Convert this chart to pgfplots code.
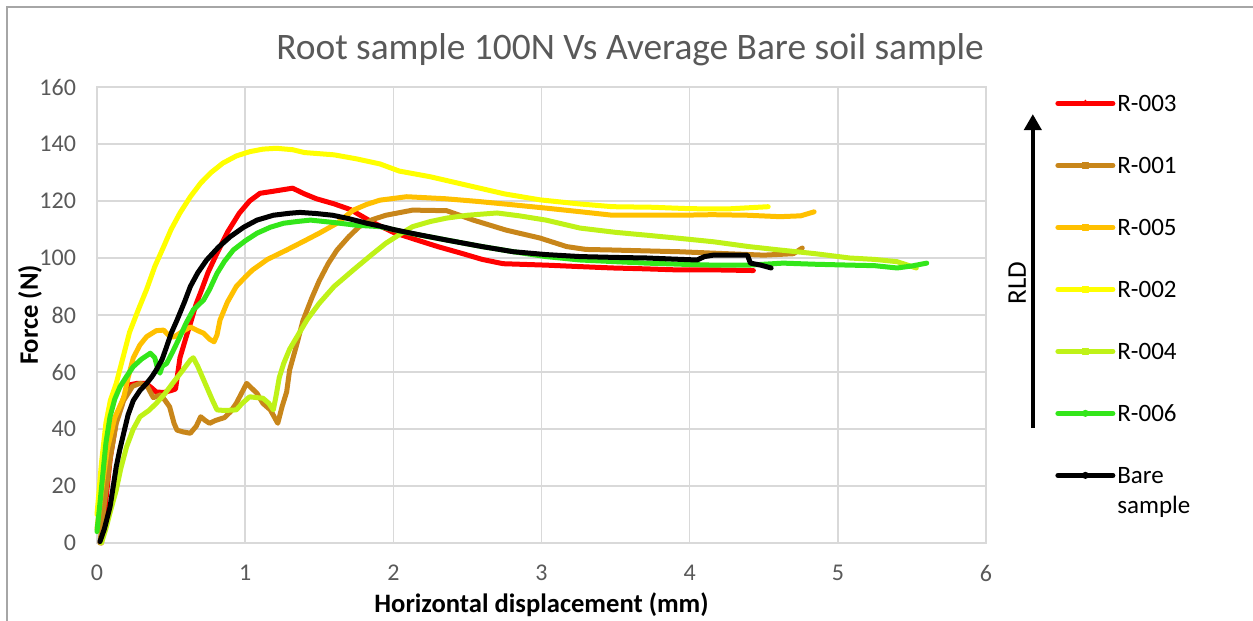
\documentclass[border=0pt]{standalone}
\usepackage{pgfplots}
\pgfplotsset{compat=1.18}
\usepackage{fontspec}
\setmainfont{Carlito}
\usetikzlibrary{arrows.meta}

\definecolor{cRed}{HTML}{FF0000}
\definecolor{cBrown}{HTML}{C8861A}
\definecolor{cOrange}{HTML}{FFC000}
\definecolor{cYellow}{HTML}{FFFF00}
\definecolor{cLime}{HTML}{BFF218}
\definecolor{cGreen}{HTML}{33E61A}
\definecolor{cGrid}{HTML}{D9D9D9}
\definecolor{cText}{HTML}{595959}
\definecolor{cFrame}{HTML}{A6A6A6}

\begin{document}
\begin{tikzpicture}
\useasboundingbox (-48.5pt,-39pt) rectangle (578pt,271.5pt);
% chart frame
\draw[cFrame, line width=1pt] (-45pt,-39pt) -- (-45pt,268pt) -- (578pt,268pt);
\begin{axis}[
  at={(0pt,0pt)}, anchor=south west,
  scale only axis, width=444.5pt, height=228pt,
  xmin=0, xmax=6, ymin=0, ymax=160,
  xtick={0,1,...,6}, ytick={0,20,...,160},
  grid=major,
  major grid style={cGrid, line width=0.75pt},
  axis line style={cGrid, line width=0.75pt},
  major tick length=0pt,
  tick label style={font=\fontsize{12}{14}\selectfont, text=cText},
  /pgf/number format/assume math mode=true,
  yticklabel style={xshift=-7pt},
  xticklabel style={yshift=-7.5pt},
  xlabel={Horizontal displacement (mm)},
  ylabel={Force (N)},
  label style={font=\fontsize{13.3}{15}\selectfont\bfseries},
  xlabel style={at={(axis description cs:0.5,-0.136)}, anchor=center},
  ylabel style={at={(axis description cs:-0.0754,0.5)}, anchor=center, rotate=0},
  title={Root sample 100N Vs Average Bare soil sample},
  every axis title shift=0pt,
  title style={at={(axis description cs:0.5996,1.081)}, anchor=center,
    font=\fontsize{18.7}{22}\selectfont, text=cText},
  clip=false,
  every axis plot/.append style={line width=2.5pt, line join=round, line cap=round, mark phase=100000},
  legend image code/.code={%
    \draw[mark repeat=2, mark phase=2, line width=2.5pt]
      plot coordinates {(0pt,0pt) (13.75pt,0pt) (27.5pt,0pt)};},
  legend cell align=left,
  legend style={draw=none, fill=none, inner sep=0pt,
    at={(axis description cs:1.0776,0.988)}, anchor=north west,
    row sep=20.5pt,
    font=\fontsize{12.5}{15}\selectfont,
    nodes={inner sep=1pt, text height=8.5pt, text depth=0pt}},
]

% R-003
\addplot[cRed, mark=triangle*, mark size=1.6pt, mark options={line width=0.5pt}] coordinates {
(0.03,0)(0.06,15)(0.09,30)(0.13,43)(0.18,51)(0.22,55.5)(0.27,56)(0.33,56)(0.36,54.8)
(0.40,53)(0.45,52.8)(0.50,53.5)(0.53,54)(0.56,65)(0.60,72)(0.63,77)(0.67,84)(0.70,88)
(0.75,95)(0.81,101.7)(0.88,109)(0.96,115.7)(1.03,120)(1.10,122.7)(1.2,123.5)(1.32,124.5)
(1.40,122.5)(1.48,120.8)(1.6,119)(1.71,117)(1.86,112.5)(2.0,109)(2.16,106.3)(2.3,104)
(2.47,101.5)(2.6,99.5)(2.74,98)(3.03,97.5)(3.25,97)(3.48,96.5)(3.7,96.2)(3.93,95.8)
(4.2,95.8)(4.43,95.6)};
\addlegendentry{R-003}

% R-001
\addplot[cBrown, mark=square*, mark size=1.5pt, mark options={line width=0.5pt}] coordinates {
(0.02,0)(0.05,14)(0.09,30)(0.13,42)(0.18,50)(0.24,55)(0.29,56)(0.335,55.4)(0.38,51)
(0.43,52)(0.46,50)(0.49,47.8)(0.52,42)(0.54,39.6)(0.58,39)(0.63,38.5)(0.67,41)(0.70,44.3)
(0.73,43)(0.76,42)(0.80,43)(0.86,44)(0.90,46)(0.94,49)(1.01,56)(1.05,54)(1.08,52.5)
(1.12,49)(1.17,46.7)(1.22,42)(1.25,48)(1.28,53)(1.30,60.7)(1.35,70)(1.39,78)(1.45,86)
(1.50,92)(1.56,98)(1.62,102.8)(1.7,107.5)(1.77,111)(1.86,113.5)(1.95,115)(2.13,116.8)
(2.36,116.6)(2.54,113.3)(2.76,109.8)(2.99,107)(3.17,104)(3.3,103)(3.48,102.8)(3.7,102.5)
(3.93,102.2)(4.16,101.7)(4.5,101)(4.7,101.5)(4.76,103.5)};
\addlegendentry{R-001}

% R-005
\addplot[cOrange, mark=square*, mark size=1.5pt, mark options={line width=0.5pt}] coordinates {
(0,5)(0.03,18)(0.07,33)(0.12,44)(0.18,51)(0.21,58)(0.245,65)(0.29,69.5)(0.335,72.4)
(0.40,74.5)(0.45,74.7)(0.49,72.5)(0.52,72.3)(0.57,74)(0.63,75.8)(0.68,74.5)(0.72,73.6)
(0.76,71.5)(0.79,70.6)(0.81,73)(0.83,78.2)(0.88,84.5)(0.94,90)(1.0,93.3)(1.05,95.8)
(1.15,99.5)(1.28,102.8)(1.40,106)(1.50,108.7)(1.62,112.2)(1.73,116.8)(1.82,118.8)
(1.91,120.3)(2.09,121.5)(2.35,120.8)(2.58,119.8)(2.8,118.7)(3.03,117.5)(3.25,116.3)
(3.48,115)(3.7,115)(3.93,115)(4.15,115.2)(4.39,115)(4.61,114.5)(4.75,114.8)(4.84,116.2)};
\addlegendentry{R-005}

% R-002
\addplot[cYellow, mark=square*, mark size=1.5pt, mark options={line width=0.5pt}] coordinates {
(0,10)(0.03,28)(0.06,42)(0.09,50)(0.13,56)(0.18,66)(0.22,74)(0.28,82)(0.335,89)(0.39,97)
(0.45,104)(0.50,110)(0.56,115.8)(0.63,121.5)(0.70,126.3)(0.77,130)(0.85,133.3)(0.94,135.8)
(1.03,137.3)(1.12,138.2)(1.21,138.5)(1.32,138)(1.40,137)(1.5,136.6)(1.6,136.2)(1.75,134.8)
(1.91,133)(2.04,130.5)(2.25,128.5)(2.5,125.5)(2.75,122.5)(2.99,120.4)(3.25,119)(3.48,118)
(3.75,117.8)(4.0,117.3)(4.25,117.2)(4.53,118)};
\addlegendentry{R-002}

% R-004
\addplot[cLime, mark=square*, mark size=1.5pt, mark options={line width=0.5pt}] coordinates {
(0.03,0)(0.06,5)(0.09,11)(0.13,18.6)(0.16,26)(0.2,33.8)(0.245,40)(0.29,44.3)(0.35,46.5)
(0.40,49)(0.46,52.5)(0.51,56)(0.57,60)(0.63,64.2)(0.65,65)(0.68,62)(0.74,54.8)(0.78,50)
(0.81,46.7)(0.86,46.5)(0.94,46.7)(0.98,49)(1.03,51.3)(1.08,51)(1.12,50.8)(1.16,49)
(1.19,46.7)(1.21,52)(1.23,58)(1.26,63)(1.3,68)(1.35,72.4)(1.42,78.5)(1.50,84.1)(1.6,90)
(1.73,95.8)(1.85,101)(1.95,105.2)(2.05,108.5)(2.13,111)(2.25,112.8)(2.36,114)(2.5,115)
(2.7,115.8)(2.85,114.8)(3.03,113.3)(3.26,110.5)(3.5,109)(3.71,108)(3.95,106.8)(4.16,105.7)
(4.4,104)(4.61,102.8)(4.85,101.5)(5.08,100)(5.25,99.5)(5.4,98.7)(5.53,96.5)};
\addlegendentry{R-004}

% R-006
\addplot[cGreen, mark=*, mark size=1.5pt, mark options={line width=0.5pt}] coordinates {
(0,4)(0.02,14)(0.04,24.5)(0.06,35)(0.088,44.3)(0.12,50.5)(0.155,54.8)(0.2,58.5)(0.245,61.9)
(0.3,64.5)(0.36,66.6)(0.39,65)(0.41,61)(0.425,59.6)(0.44,62)(0.47,63)(0.51,67)(0.56,72.4)
(0.6,77)(0.65,81.8)(0.72,85.3)(0.76,89)(0.81,94.6)(0.86,98.8)(0.92,102.8)(1.0,106)
(1.08,108.7)(1.17,110.8)(1.26,112.2)(1.35,112.8)(1.44,113.3)(1.59,112.5)(1.75,111.5)
(1.91,111)(2.1,108.8)(2.36,106.3)(2.6,104)(2.81,102.2)(3.03,100.5)(3.26,99.3)(3.5,98.7)
(3.71,98.2)(3.95,97.8)(4.16,97.5)(4.4,97.5)(4.63,98.2)(4.85,97.8)(5.08,97.5)(5.25,97.3)
(5.4,96.5)(5.5,97.2)(5.6,98.2)};
\addlegendentry{R-006}

% Bare soil average
\addplot[black, mark=*, mark size=1.5pt, mark options={line width=0.5pt}] coordinates {
(0.02,0.5)(0.05,5)(0.088,12.7)(0.11,20)(0.13,26.8)(0.155,33)(0.18,38.5)(0.21,45)(0.245,50)
(0.29,53.5)(0.335,56)(0.37,58.3)(0.40,60.7)(0.44,64.5)(0.47,68.9)(0.5,73.5)(0.54,78.2)
(0.59,84.5)(0.63,90)(0.68,94.8)(0.74,99.3)(0.82,103.8)(0.90,107.5)(0.99,110.8)(1.08,113.3)
(1.19,115)(1.30,115.7)(1.37,116)(1.48,115.6)(1.59,115)(1.7,113.8)(1.82,112.2)(1.91,111.2)
(2.0,110)(2.16,108.3)(2.36,106.3)(2.6,104)(2.81,102.2)(3.03,101.2)(3.26,100.5)(3.5,100.2)
(3.71,100)(3.9,99.6)(4.05,99.3)(4.1,100.5)(4.16,101)(4.28,101)(4.39,101)(4.41,98.2)
(4.48,97.5)(4.55,96.5)};
\addlegendentry{\begin{tabular}[t]{@{}l@{}}Bare\\sample\end{tabular}}

% root length density arrow
\draw[black, line width=2.3pt, -{Triangle[width=8.5pt,length=8pt]}]
  (axis cs:6.316,40.3) -- (axis cs:6.316,150.5);
\node[rotate=90, font=\fontsize{13.5}{16}\selectfont] at (axis cs:6.21,91.2) {RLD};
\end{axis}
\end{tikzpicture}
\end{document}
